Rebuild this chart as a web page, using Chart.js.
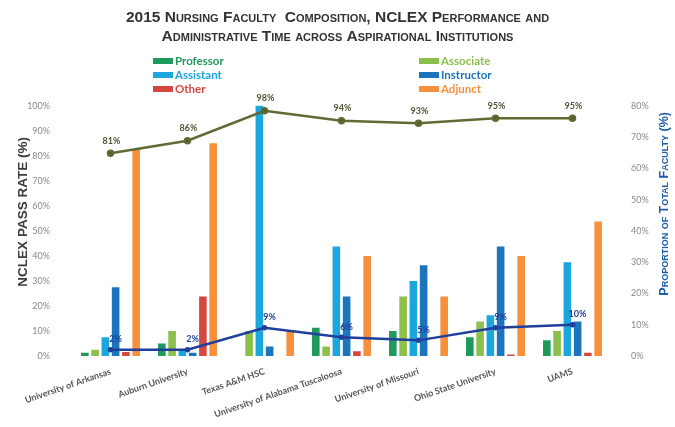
<!DOCTYPE html>
<html><head><meta charset="utf-8">
<script src="https://cdn.jsdelivr.net/npm/chart.js@4/dist/chart.umd.min.js"></script>
<style>html,body{margin:0;padding:0;background:#fff;}#wrap{width:675px;height:427px;position:relative;}</style>
</head><body><div id="wrap"><canvas id="c"></canvas></div>
<script>
const categories = ['University of Arkansas','Auburn University','Texas A&M HSC','University of Alabama Tuscaloosa','University of Missouri','Ohio State University','UAMS'];
const professor  = [1, 4, 0, 9, 8, 6, 5];
const associate  = [2, 8, 8, 3, 19, 11, 8];
const assistant  = [6, 2, 81, 35, 24, 13, 30];
const instructor = [22, 1, 3, 19, 29, 35, 11];
const other      = [1.3, 19, 0, 1.5, 0, 0.5, 1];
const adjunct    = [66, 68, 8, 32, 19, 32, 43];
const nclexPassRate = [81, 86, 98, 94, 93, 95, 95];
const adminTime     = [2, 2, 9, 6, 5, 9, 10];
const leftTickLabels  = ['0%','10%','20%','30%','40%','50%','60%','70%','80%','90%','100%'];
const rightTickLabels = ['0%','10%','20%','30%','40%','50%','60%','70%','80%'];
const titleLines = ['2015 Nursing Faculty  Composition, NCLEX Performance and','Administrative Time across Aspirational Institutions'];
const leftTitle = 'NCLEX PASS RATE (%)';
const rightTitle = 'Proportion of Total Faculty (%)';

const barSeries = [
  {label:'Professor', data:professor, color:'#1f9a5c'},
  {label:'Associate', data:associate, color:'#8cbf4c'},
  {label:'Assistant', data:assistant, color:'#1ba6dd'},
  {label:'Instructor', data:instructor, color:'#1c74bc'},
  {label:'Other', data:other, color:'#d4473f'},
  {label:'Adjunct', data:adjunct, color:'#f6903d'}
];

const datasets = [
  {type:'line', label:'NCLEX Pass Rate', data:nclexPassRate, yAxisID:'y', borderColor:'#5f6b34', backgroundColor:'#5f6b34', borderWidth:2.5, pointRadius:2.5, pointBackgroundColor:'#4f5a2c', order:0, tension:0, labelColor:'#4f5637', labelDx:1, labelDy:8},
  {type:'line', label:'Administrative Time', data:adminTime, yAxisID:'y1', borderColor:'#203f9b', backgroundColor:'#203f9b', borderWidth:2.5, pointRadius:1.5, pointBackgroundColor:'#203f9b', order:0, tension:0, labelColor:'#203f9b', labelDx:5, labelDy:6}
].concat(barSeries.map(s => ({type:'bar', label:s.label, data:s.data, yAxisID:'y1', backgroundColor:s.color, borderWidth:0, order:1, categoryPercentage:0.8, barPercentage:0.74})));

const extras = {
  id:'extras',
  afterDatasetsDraw(chart){
    const ctx = chart.ctx;
    chart.data.datasets.forEach((ds,i)=>{
      if(ds.type!=='line') return;
      const meta = chart.getDatasetMeta(i);
      ctx.save();
      ctx.font = 'bold 9px Lato';
      ctx.fillStyle = ds.labelColor;
      ctx.textAlign='center'; ctx.textBaseline='bottom';
      meta.data.forEach((pt,j)=>ctx.fillText(ds.data[j]+'%', pt.x+ds.labelDx, pt.y-ds.labelDy));
      ctx.restore();
    });
  },
  afterDraw(chart){
    const ctx = chart.ctx;
    // legend
    const bars = chart.data.datasets.filter(d=>d.type==='bar');
    const colX = [153, 419], rowY = [61, 75, 89];
    ctx.save();
    ctx.font = 'bold 11.5px Lato';
    ctx.textBaseline='middle'; ctx.textAlign='left';
    bars.forEach((d,k)=>{
      const x = colX[k%2], y = rowY[Math.floor(k/2)];
      ctx.fillStyle = d.backgroundColor;
      ctx.fillRect(x, y-3, 20, 6);
      ctx.fillText(d.label, x+22, y);
    });
    ctx.restore();
    const a = chart.chartArea;
    // left axis title
    ctx.save();
    ctx.font = 'bold 13.5px "Liberation Sans"';
    ctx.fillStyle='#3c3c3c';
    ctx.translate(23, (a.top+a.bottom)/2 - 19);
    ctx.rotate(-Math.PI/2);
    ctx.textAlign='center'; ctx.textBaseline='middle';
    ctx.fillText(leftTitle, 0, 0);
    ctx.restore();
    // right axis title
    const s = chart.scales.y1;
    ctx.save();
    ctx.font = 'small-caps bold 12.5px "Liberation Sans"';
    try{ ctx.fontVariantCaps='small-caps'; }catch(e){}
    ctx.fillStyle='#2060a8';
    ctx.translate(s.right-10, (a.top+a.bottom)/2 - 27);
    ctx.rotate(-Math.PI/2);
    ctx.textAlign='center'; ctx.textBaseline='middle';
    ctx.fillText(rightTitle, 0, 0);
    ctx.restore();
  }
};

new Chart(document.getElementById('c'), {
  data:{labels:categories, datasets:datasets},
  options:{
    responsive:true, maintainAspectRatio:false, animation:false,
    layout:{padding:0},
    plugins:{
      legend:{display:false},
      tooltip:{enabled:false},
      title:{display:true, text:titleLines, color:'#333333', font:{family:'"Liberation Sans"', size:15.5, weight:'small-caps bold', lineHeight:1.25}, padding:{top:8, bottom:59}}
    },
    scales:{
      x:{grid:{display:false}, border:{display:false},
         ticks:{autoSkip:false, minRotation:19, maxRotation:19, color:'#555555', font:{family:'Lato', size:9, weight:'bold'}, padding:2},
         afterFit:s=>{s.height=71;}},
      y:{position:'left', min:0, max:100, grid:{display:false}, border:{display:false},
         ticks:{stepSize:10, color:'#8a8a8a', font:{family:'Lato', size:9}, padding:14, callback:(v,i)=>leftTickLabels[i]},
         afterFit:s=>{s.width=72;}},
      y1:{position:'right', min:0, max:80, grid:{display:false}, border:{display:false},
         ticks:{stepSize:10, color:'#8a8a8a', font:{family:'Lato', size:9}, padding:12, callback:(v,i)=>rightTickLabels[i]},
         afterFit:s=>{s.width=64;}}
    }
  },
  plugins:[extras]
});
</script></body></html>
